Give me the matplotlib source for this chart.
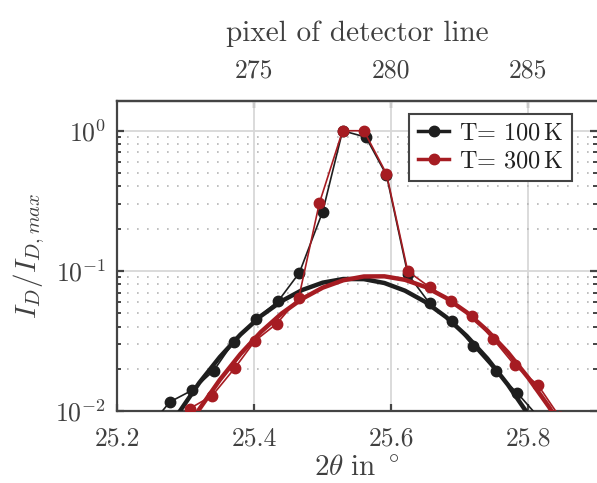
import matplotlib
matplotlib.use("Agg")
import matplotlib.pyplot as plt
from matplotlib.lines import Line2D
from matplotlib.ticker import FixedLocator, FixedFormatter, NullFormatter, LogLocator

plt.rcParams['font.family'] = 'serif'
plt.rcParams['font.serif'] = ['cmr10', 'DejaVu Serif']
plt.rcParams['mathtext.fontset'] = 'cm'
plt.rcParams['axes.formatter.use_mathtext'] = True

# ---- data ----
x_100 = [25.245, 25.277, 25.310, 25.341, 25.370, 25.402, 25.435, 25.466, 25.500, 25.529,
         25.563, 25.593, 25.624, 25.656, 25.688, 25.719, 25.752, 25.784, 25.816]
y_100 = [0.0075, 0.0116, 0.0141, 0.0194, 0.0311, 0.0450, 0.0608, 0.0970, 0.265, 1.0,
         0.90, 0.482, 0.095, 0.0585, 0.0437, 0.0293, 0.0193, 0.0134, 0.0089]

x_300 = [25.274, 25.306, 25.339, 25.372, 25.401, 25.433, 25.465, 25.495, 25.529, 25.560,
         25.593, 25.624, 25.656, 25.687, 25.717, 25.749, 25.780, 25.814, 25.846]
y_300 = [0.0080, 0.0104, 0.0129, 0.0203, 0.0316, 0.0420, 0.0640, 0.303, 1.0, 1.0,
         0.493, 0.0995, 0.0765, 0.0608, 0.0480, 0.0324, 0.0212, 0.0153, 0.0090]

# broad (fit) curves
xf_100 = [25.26, 25.29, 25.32, 25.35, 25.38, 25.41, 25.44, 25.47, 25.50, 25.53, 25.56,
          25.59, 25.62, 25.65, 25.68, 25.71, 25.74, 25.77, 25.80, 25.83]
yf_100 = [0.0056, 0.0097, 0.0159, 0.0243, 0.0351, 0.0477, 0.0608, 0.0730, 0.0824, 0.0875,
          0.0873, 0.0819, 0.0722, 0.0599, 0.0468, 0.0343, 0.0237, 0.0154, 0.0094, 0.0054]

xf_300 = [25.29, 25.32, 25.35, 25.38, 25.41, 25.44, 25.47, 25.50, 25.53, 25.56, 25.59,
          25.62, 25.65, 25.68, 25.71, 25.74, 25.77, 25.80, 25.83, 25.86]
yf_300 = [0.0060, 0.0103, 0.0167, 0.0255, 0.0367, 0.0496, 0.0632, 0.0759, 0.0857, 0.0912,
          0.0914, 0.0863, 0.0767, 0.0641, 0.0506, 0.0375, 0.0262, 0.0172, 0.0107, 0.0062]

labels = ['T= 100$\\,$K', 'T= 300$\\,$K']
x_ticks = [25.2, 25.4, 25.6, 25.8]
x_ticklabels = ['25.2', '25.4', '25.6', '25.8']
top_ticks = [275, 280, 285]
top_ticklabels = ['275', '280', '285']
y_ticks = [0.01, 0.1, 1.0]
y_ticklabels = [r'$10^{-2}$', r'$10^{-1}$', r'$10^{0}$']

c_black = '#1e1e1e'
c_red = '#a61c22'
c_axis = '#444444'
c_text = '#404040'

fig = plt.figure(figsize=(5.97, 4.83), dpi=100)
ax = fig.add_axes([117/597, 1-411/483, 480/597, 310/483])

ax.set_yscale('log')
ax.set_xlim(25.2, 25.9)
ax.set_ylim(0.01, 1.63)

# grid
ax.yaxis.set_minor_locator(LogLocator(base=10, subs=range(2, 10)))
ax.yaxis.set_minor_formatter(NullFormatter())
ax.grid(True, which='major', color='#d8d8d8', lw=1.3, ls='-')
ax.grid(True, which='minor', axis='y', color='#b5b5b5', lw=1.2, ls=(0, (1, 5)))
ax.set_axisbelow(True)

ax.plot(x_100, y_100, '-o', color=c_black, lw=1.2, ms=7.5, zorder=3)
ax.plot(xf_100, yf_100, '-', color=c_black, lw=3.2, zorder=3)
ax.plot(x_300, y_300, '-o', color=c_red, lw=1.2, ms=7.5, zorder=4)
ax.plot(xf_300, yf_300, '-', color=c_red, lw=3.2, zorder=4)

ax.xaxis.set_major_locator(FixedLocator(x_ticks))
ax.xaxis.set_major_formatter(FixedFormatter(x_ticklabels))
ax.yaxis.set_major_locator(FixedLocator(y_ticks))
ax.yaxis.set_major_formatter(FixedFormatter(y_ticklabels))

for s in ['left', 'bottom', 'top']:
    ax.spines[s].set_color(c_axis)
    ax.spines[s].set_linewidth(1.6)
ax.spines['right'].set_visible(False)

ax.tick_params(axis='both', which='major', direction='in', length=5, width=1.6,
               color=c_axis, labelcolor=c_text, labelsize=18.5)
ax.tick_params(axis='x', which='major', bottom=True, top=False, pad=11)
ax.tick_params(axis='y', which='both', left=True, right=True, direction='in', color=c_axis)
ax.tick_params(axis='y', which='major', pad=8)
ax.tick_params(axis='y', which='minor', length=3, width=1.4)

ax.set_xlabel(r'$2\theta\ \mathrm{in}\ ^\circ$', fontsize=21, color=c_text, labelpad=3)
ax.set_ylabel(r'$I_D/I_{D,max}$', fontsize=21, color=c_text, labelpad=6)

# top axis: pixel of detector line
def to_pix(x):
    return 275 + (x - 25.4) * 25.0

def to_ang(p):
    return 25.4 + (p - 275) / 25.0

sec = ax.secondary_xaxis('top', functions=(to_pix, to_ang))
sec.xaxis.set_major_locator(FixedLocator(top_ticks))
sec.xaxis.set_major_formatter(FixedFormatter(top_ticklabels))
sec.tick_params(direction='in', length=5, width=1.6, color=c_axis, labelcolor=c_text,
                labelsize=18.5, pad=13)
sec.spines['top'].set_color(c_axis)
sec.spines['top'].set_linewidth(1.6)
sec.set_xlabel('pixel of detector line', fontsize=21, color=c_text, labelpad=13)

handles = [Line2D([], [], color=c_black, lw=2.5, marker='o', ms=7.5),
           Line2D([], [], color=c_red, lw=2.5, marker='o', ms=7.5)]
leg = ax.legend(handles, labels, loc='upper right', bbox_to_anchor=(0.948, 0.958),
                borderaxespad=0, fancybox=False, framealpha=1, edgecolor=c_axis,
                fontsize=17.5, handlelength=1.3, handletextpad=0.4, borderpad=0.35,
                labelspacing=0.25)
leg.get_frame().set_linewidth(1.5)
for t in leg.get_texts():
    t.set_color('#202020')
leg.set_zorder(10)

fig.savefig('out.png', dpi=100)
